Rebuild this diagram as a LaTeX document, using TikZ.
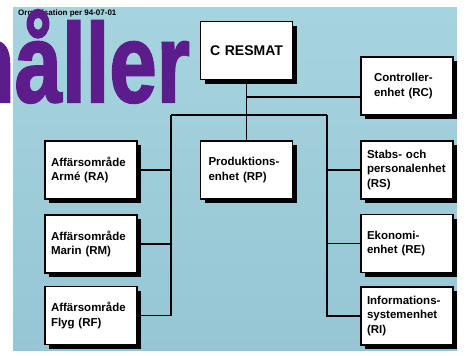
\documentclass[tikz,border=0pt]{standalone}
\usepackage{fontspec}
\setmainfont{Liberation Sans}
\newfontfamily\rubrikfont[BoldFeatures={FakeBold=2}]{Liberation Sans}
\usetikzlibrary{positioning,shadows}

\definecolor{bakgrund}{RGB}{166,212,222}
\definecolor{bakgrundmork}{RGB}{150,198,212}
\definecolor{lila}{RGB}{92,28,140}

\begin{document}
\begin{tikzpicture}[x=1pt, y=-1pt, on grid,
  enhet/.style={draw=black, line width=1.1pt, fill=white, minimum width=92pt, minimum height=58pt,
    text width=80pt, inner xsep=6pt, align=left, font=\fontsize{11.5}{14.5}\selectfont\bfseries,
    drop shadow={shadow xshift=4pt, shadow yshift=-4pt, fill=black, opacity=1}},
  linje/.style={line width=1.5pt}]
\useasboundingbox (0,0) rectangle (466,356);
\clip (0,0) rectangle (466,356);
\shade[top color=bakgrund, bottom color=bakgrundmork] (13,7) rectangle (457,350);

% rubrik
\node[anchor=base west, inner sep=0, font=\fontsize{8}{8}\selectfont\bfseries] (datum) at (18,15) {Organisation per 94-07-01};
\node[anchor=base east, inner sep=0, text=lila, xscale=0.76, font=\fontsize{112}{112}\rubrikfont\bfseries] (rubrik) at (190,102) {håller};

% enheter
\node[enhet]	(arme)	at (91,170)			{Affärsområde\\Armé (RA)};
\node[enhet]	(marin)	[below=74pt of arme]	{Affärsområde\\Marin (RM)};
\node[enhet]	(flyg)	[below=71.5pt of marin]	{Affärsområde\\Flyg (RF)};
\node[enhet, text width=76pt, inner xsep=8pt]	(prod)	[right=155.5pt of arme]	{Produktions-\\enhet (RP)};
\node[enhet, align=center, font=\fontsize{14}{16}\selectfont\bfseries]	(resmat)	[above=119.5pt of prod]	{C RESMAT};
\node[enhet]	(stabs)	at (407,170)			{Stabs- och\\personalenhet\\(RS)};
\node[enhet, text width=66pt, inner xsep=13pt]	(ctrl)	[above=84pt of stabs]	{Controller-\\enhet (RC)};
\node[enhet]	(ekon)	[below=73.5pt of stabs]	{Ekonomi-\\enhet (RE)};
\node[enhet]	(info)	[below=72.5pt of ekon]	{Informations-\\systemenhet\\(RI)};

% linjer
\coordinate (knut) at (246.5,97);
\coordinate (vt) at (171,115);
\coordinate (ht) at (327,115);
\draw[linje] (resmat) -- (prod);
\draw[linje] (knut) -- (knut -| ctrl.west);
\draw[linje] (vt) -- (ht);
\draw[linje] (vt) |- (flyg.east);
\draw[linje] (ht) |- (info.west);
\draw[linje] (arme.east) -- (arme.east -| vt);
\draw[linje] (marin.east) -- (marin.east -| vt);
\draw[linje] (stabs.west) -- (stabs.west -| ht);
\draw[linje] (ekon.west) -- (ekon.west -| ht);
\end{tikzpicture}
\end{document}
